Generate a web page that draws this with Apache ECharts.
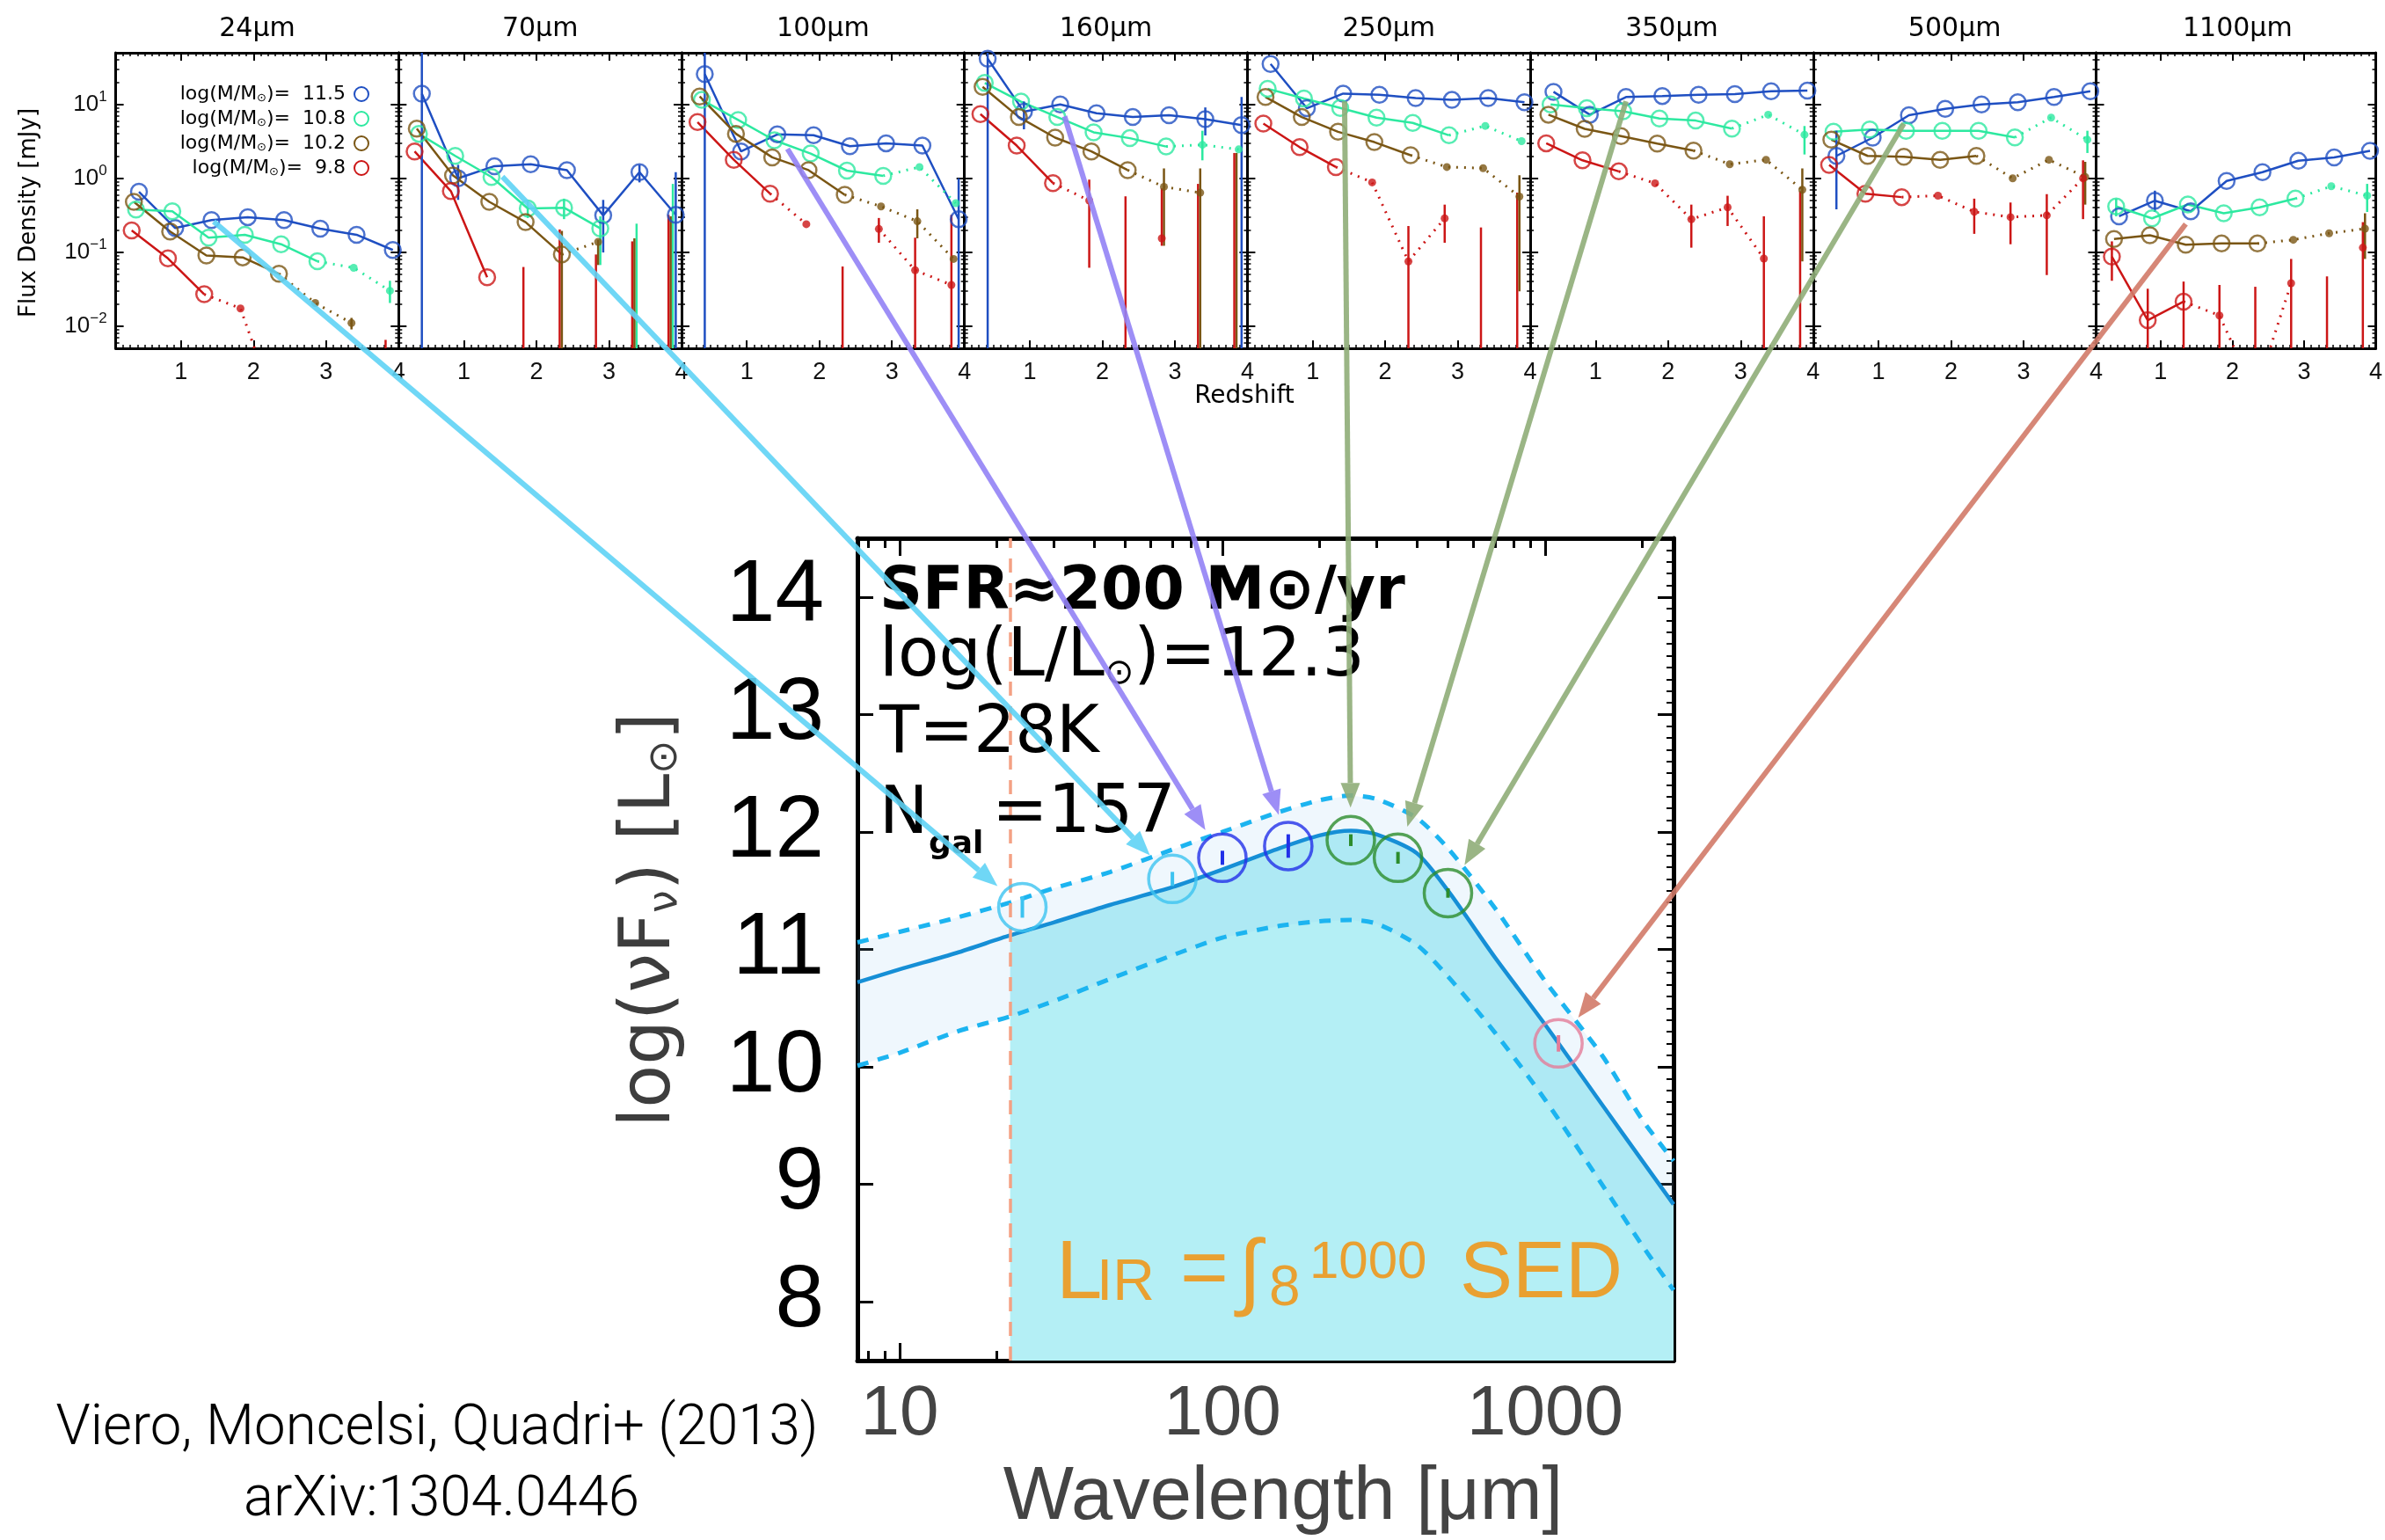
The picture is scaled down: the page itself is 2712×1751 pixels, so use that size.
<!DOCTYPE html>
<html>
<head>
<meta charset="utf-8">
<title>Stacked SED</title>
<script src="https://cdn.jsdelivr.net/npm/echarts@6/dist/echarts.min.js"></script>
<style>html,body{margin:0;background:#fff}#main{width:2712px;height:1751px}</style>
</head>
<body>
<div id="main"></div>
<script>
// ---------- top row: stacked flux density vs redshift ----------
var bands = ['24', '70', '100', '160', '250', '350', '500', '1100'];
var massLabels = ['11.5', '10.8', '10.2', '9.8'];
var massColors = ['#1f4fc2', '#2de9a0', '#7a5614', '#cc1616'];

var zBlue  = [0.42, 0.92, 1.42, 1.92, 2.42, 2.92, 3.42, 3.92];
var zGreen = [0.38, 0.88, 1.38, 1.88, 2.38, 2.88, 3.38, 3.88];
var zBrown = [0.35, 0.85, 1.35, 1.85, 2.35, 2.85, 3.35, 3.85];
var zRed   = [0.32, 0.82, 1.32, 1.82, 2.32, 2.82, 3.32, 3.82];
var zTicks = [1, 2, 3, 4];

// flux density [mJy]; rows = blue, green, brown, red
var flux24 = [
  [0.656, 0.212, 0.272, 0.298, 0.272, 0.208, 0.172, 0.107],
  [0.378, 0.358, 0.157, 0.172, 0.128, 0.0752, 0.0615, 0.030],
  [0.48, 0.19, 0.090, 0.085, 0.051, 0.0205, 0.011, null],
  [0.197, 0.0824, 0.0269, 0.0173, 0.0007, null, null, 0.0065]
];
var flux70 = [
  [14.0, 1.0, 1.46, 1.55, 1.29, 0.315, 1.21, 0.32],
  [4.0, 2.01, 1.04, 0.39, 0.40, 0.21, 0.243, 0.84],
  [4.7, 1.09, 0.48, 0.255, 0.093, 0.138, 0.154, 0.306],
  [2.31, 0.67, 0.0458, 0.063, 0.203, 0.093, 0.14, 0.32]
];
var flux100 = [
  [25.7, 2.31, 3.93, 3.82, 2.72, 2.98, 2.77, 0.279],
  [11.5, 6.15, 3.27, 2.16, 1.27, 1.08, 1.42, 0.46],
  [12.8, 4.0, 1.92, 1.29, 0.598, 0.415, 0.262, 0.081],
  [5.77, 1.78, 0.62, 0.239, 0.064, 0.206, 0.057, 0.036]
];
var flux160 = [
  [41.5, 7.95, 10.0, 7.6, 6.74, 7.13, 6.3, 5.26],
  [19.5, 10.9, 6.74, 4.19, 3.49, 2.69, 2.84, 2.46],
  [17.3, 6.74, 3.55, 2.31, 1.29, 0.766, 0.638, 2.2],
  [7.4, 2.77, 0.86, 0.50, 0.57, 0.154, 0.84, 2.2]
];
var flux250 = [
  [35.2, 8.88, 14.0, 13.5, 12.2, 11.5, 12.2, 10.7],
  [16.3, 12.0, 8.96, 6.62, 5.61, 3.82, 5.12, 3.18],
  [12.6, 6.74, 4.26, 3.09, 2.05, 1.42, 1.37, 0.566],
  [5.51, 2.64, 1.42, 0.88, 0.075, 0.287, 0.216, 0.64]
];
var flux350 = [
  [14.8, 7.26, 12.6, 13.0, 13.5, 13.8, 15.1, 15.4],
  [10.0, 8.88, 8.09, 6.44, 6.04, 4.71, 7.26, 3.89],
  [7.26, 4.67, 3.72, 2.95, 2.37, 1.55, 1.78, 0.70],
  [2.98, 1.75, 1.24, 0.855, 0.279, 0.404, 0.082, 0.67]
];
var flux500 = [
  [2.01, 3.55, 7.13, 8.71, 10.0, 10.7, 12.6, 15.1],
  [4.26, 4.58, 4.38, 4.38, 4.38, 3.58, 6.62, 3.33],
  [3.33, 2.01, 1.95, 1.78, 2.01, 1.0, 1.78, 1.04],
  [1.52, 0.62, 0.556, 0.582, 0.352, 0.298, 0.315, 1.0]
];
var flux1100 = [
  [0.306, 0.497, 0.358, 0.92, 1.21, 1.73, 1.92, 2.35],
  [0.415, 0.287, 0.442, 0.336, 0.404, 0.531, 0.78, 0.582],
  [0.151, 0.169, 0.126, 0.131, 0.131, 0.147, 0.18, 0.208],
  [0.087, 0.012, 0.0214, 0.0139, 0.0012, 0.038, 0.047, 0.115]
];
// o = detection (open), f = low significance (filled, dotted), l = bar only, - = none
var kind24   = ['oooooooo', 'ooooooff', 'oooooff-', 'oooff--l'];
var kind70   = ['oooooooo', 'ooooooll', 'ooooofll', 'ooolllll'];
var kind100  = ['oooooooo', 'ooooooff', 'ooooofff', 'oooflfff'];
var kind160  = ['oooooooo', 'ooooooff', 'oooooffl', 'oooflfll'];
var kind250  = ['oooooooo', 'ooooooff', 'ooooofff', 'ooofffll'];
var kind350  = ['oooooooo', 'ooooooff', 'ooooofff', 'oooffffl'];
var kind500  = ['oooooooo', 'ooooooff', 'ooooofff', 'ooofffff'];
var kind1100 = ['oooooooo', 'ooooooff', 'ooooofff', 'oooffflf'];

// visible error bars: [band, mass, bin, low, high]  (low 0 = down to the axis)
var errBars = [
  [0,1,7,0.0205,0.041], [0,2,6,0.009,0.0129],
  [1,0,0,0,50], [1,0,1,0.51,1.52], [1,0,5,0.099,0.51], [1,0,6,0.88,1.52], [1,0,7,0,1.21],
  [1,1,3,0.29,0.51], [1,1,4,0.28,0.53], [1,1,5,0.067,0.306], [1,2,4,0,0.194], [1,2,5,0.067,0.147],
  [2,0,0,0,50], [2,0,7,0,1.0], [2,2,6,0.154,0.38], [2,3,5,0.134,0.29], [2,3,6,0,0.157], [2,3,7,0,0.32],
  [3,0,0,0,50], [3,0,1,4.6,10.96], [3,0,6,3.8,9.1], [3,0,7,0,12.6], [3,1,6,1.75,4.4],
  [3,2,5,0.122,1.36], [3,2,6,0,1.36], [3,3,3,0.0615,0.96], [3,3,5,0.122,0.73],
  [4,2,7,0.0295,1.1], [4,3,4,0,0.226], [4,3,5,0.134,0.44],
  [5,1,7,2.1,5.1], [5,2,7,0.075,1.36], [5,3,4,0.115,0.44], [5,3,5,0.226,0.58], [5,3,6,0,0.306],
  [6,0,0,0.38,4.4], [6,1,7,2.2,4.4], [6,2,7,0.44,1.67], [6,3,4,0.177,0.53], [6,3,5,0.128,0.47],
  [6,3,6,0.049,0.61], [6,3,7,0.28,1.75],
  [7,0,1,0.35,0.68], [7,1,0,0.306,0.53], [7,1,7,0.35,0.84], [7,2,7,0.081,0.336], [7,3,0,0.041,0.14],
  [7,3,1,0,0.032], [7,3,2,0,0.040], [7,3,3,0,0.036], [7,3,4,0,0.034], [7,3,5,0,0.081], [7,3,7,0,0.255]
];
var fluxMinorTicks = [0.006, 0.007, 0.008, 0.009, 0.02, 0.03, 0.04, 0.05, 0.06, 0.07, 0.08, 0.09,
  0.2, 0.3, 0.4, 0.5, 0.6, 0.7, 0.8, 0.9, 2, 3, 4, 5, 6, 7, 8, 9, 20, 30, 40];

// ---------- bottom: stacked SED ----------
var sedWave  = [7.4, 10, 15, 22, 30, 45, 70, 100, 150, 200, 250, 300, 400, 500, 700, 1000, 1500, 2000, 2500];
var sedBest  = [10.72, 10.83, 10.97, 11.12, 11.23, 11.38, 11.53, 11.68, 11.86, 11.97, 12.01, 11.98, 11.82, 11.50, 10.93, 10.36, 9.68, 9.20, 8.83];
var sedUpper = [11.06, 11.15, 11.27, 11.40, 11.52, 11.66, 11.85, 12.00, 12.17, 12.27, 12.31, 12.28, 12.12, 11.86, 11.35, 10.73, 10.10, 9.55, 9.20];
var sedLower = [10.01, 10.12, 10.30, 10.43, 10.56, 10.75, 10.95, 11.10, 11.20, 11.24, 11.25, 11.22, 11.04, 10.77, 10.29, 9.72, 9.00, 8.48, 8.10];
var sedPtWave = [24, 70, 100, 160, 250, 350, 500, 1100];
var sedPtVal  = [11.36, 11.60, 11.78, 11.88, 11.93, 11.78, 11.48, 10.20];
var sedPtErr  = [0.09, 0.06, 0.06, 0.10, 0.05, 0.05, 0.04, 0.07];
var sedPtColors = ['#3cc3f0', '#3cc3f0', '#2230e8', '#2230e8', '#2c8c2c', '#2c8c2c', '#2c8c2c', '#e47c98'];
var fillStartWave = 22;
var sedYTicks = [8, 9, 10, 11, 12, 13, 14];
var waveMinorTicks = [8, 9, 20, 30, 40, 50, 60, 70, 80, 90, 200, 300, 400, 500, 600, 700, 800, 900, 2000];

// arrows: start point [z, flux] inside each band panel, ending at the SED point
var arrowFrom = [[1.45, 0.26], [1.53, 1.05], [1.56, 2.5], [1.48, 6.9], [1.44, 11], [1.42, 11], [1.35, 5.5], [1.35, 0.24]];
var arrowColors = ['#5fd3f5', '#5fd3f5', '#9282f5', '#9282f5', '#8fad78', '#8fad78', '#8fad78', '#d27a68'];

var fluxByBand = [flux24, flux70, flux100, flux160, flux250, flux350, flux500, flux1100];
var kindByBand = [kind24, kind70, kind100, kind160, kind250, kind350, kind500, kind1100];
var zByMass = [zBlue, zGreen, zBrown, zRed];

var PANEL_LEFT = 131.6, PANEL_W = 321.7, PANEL_TOP = 60, PANEL_H = 336;
var zMin = 0.1, zMax = 4, fMin = 0.005, fMax = 50;
var yMinSed = 7.5, yMaxSed = 14.5, xMinSed = 7.4, xMaxSed = 2500;

var chart = echarts.init(document.getElementById('main'));
var grids = [], xAxes = [], yAxes = [], series = [];
var xMain = [], yMain = [];

function isPow10(v) {
  var l = Math.log10(v);
  return Math.abs(l - Math.round(l)) < 1e-6;
}

for (var i = 0; i < 8; i++) {
  grids.push({left: PANEL_LEFT + i * PANEL_W, top: PANEL_TOP, width: PANEL_W, height: PANEL_H});
  xMain[i] = xAxes.length;
  ['bottom', 'top'].forEach(function (pos) {
    xAxes.push({
      gridIndex: i, type: 'value', min: zMin, max: zMax, position: pos,
      axisLine: {onZero: false, lineStyle: {color: '#000', width: 3}},
      axisTick: {inside: true, length: 9, customValues: zTicks, lineStyle: {color: '#000', width: 2}},
      axisLabel: pos === 'bottom'
        ? {customValues: zTicks, fontSize: 27, fontFamily: 'Liberation Sans', color: '#111', margin: 14, showMaxLabel: true}
        : {show: false},
      splitLine: {show: false}
    });
    xAxes.push({
      gridIndex: i, type: 'value', min: zMin, max: zMax, interval: 0.1, position: pos,
      axisLine: {show: false, onZero: false},
      axisTick: {inside: true, length: 4, lineStyle: {color: '#000', width: 1.5}},
      axisLabel: {show: false}, splitLine: {show: false}
    });
  });
  yMain[i] = yAxes.length;
  ['left', 'right'].forEach(function (pos) {
    yAxes.push({
      gridIndex: i, type: 'log', logBase: 10, min: fMin, max: fMax, position: pos,
      axisLine: {onZero: false, lineStyle: {color: '#000', width: 3}},
      axisTick: {inside: true, length: 9, lineStyle: {color: '#000', width: 2}},
      axisLabel: (pos === 'left' && i === 0) ? {
        fontSize: 26, fontFamily: 'Liberation Sans', color: '#111', margin: 10, lineHeight: 34,
        formatter: function (v) {
          if (!isPow10(v)) return '';
          var e = Math.round(Math.log10(v));
          return '10{s|' + (e < 0 ? '\u2212' + (-e) : e) + '}';
        },
        rich: {s: {fontSize: 17, fontFamily: 'Liberation Sans', color: '#111', verticalAlign: 'top', lineHeight: 20}}
      } : {show: false},
      splitLine: {show: false}
    });
    yAxes.push({
      gridIndex: i, type: 'value', min: Math.log10(fMin), max: Math.log10(fMax), position: pos,
      axisLine: {show: false, onZero: false},
      axisTick: {inside: true, length: 4, customValues: fluxMinorTicks.map(Math.log10), lineStyle: {color: '#000', width: 1.5}},
      axisLabel: {show: false}, splitLine: {show: false}
    });
  });

  var barData = [];
  for (var m = 0; m < 4; m++) {
    var f = fluxByBand[i][m], k = kindByBand[i][m], z = zByMass[m];
    var solid = [], dotted = [], open = [], filled = [];
    for (var b = 0; b < 8; b++) {
      var c = k.charAt(b);
      var nearF = (b > 0 && k.charAt(b - 1) === 'f') || (b < 7 && k.charAt(b + 1) === 'f');
      solid.push(c === 'o' ? [z[b], f[b]] : [z[b], '-']);
      dotted.push((c === 'f' || (c === 'o' && nearF)) ? [z[b], f[b]] : [z[b], '-']);
      if (c === 'o') open.push([z[b], f[b]]);
      if (c === 'f') filled.push([z[b], f[b]]);
      if (c === 'l') barData.push([z[b], fMin, f[b], m]);
    }
    var base = {xAxisIndex: xMain[i], yAxisIndex: yMain[i], animation: false, silent: true};
    series.push(Object.assign({type: 'line', data: solid, showSymbol: false, symbol: 'none', z: 3,
      lineStyle: {color: massColors[m], width: 2.5}}, base));
    series.push(Object.assign({type: 'line', data: dotted, showSymbol: false, symbol: 'none', z: 3,
      lineStyle: {color: massColors[m], width: 3, type: [2, 7]}}, base));
    series.push(Object.assign({type: 'scatter', data: open, symbol: 'circle', symbolSize: 18, z: 5,
      itemStyle: {color: 'rgba(0,0,0,0)', borderColor: massColors[m], borderWidth: 2.5}}, base));
    series.push(Object.assign({type: 'scatter', data: filled, symbol: 'circle', symbolSize: 9, z: 5,
      itemStyle: {color: massColors[m]}}, base));
  }
  errBars.forEach(function (e) {
    if (e[0] === i) barData.push([zByMass[e[1]][e[2]], e[3] > 0 ? e[3] : fMin, e[4], e[1]]);
  });
  series.push({
    type: 'custom', xAxisIndex: xMain[i], yAxisIndex: yMain[i], data: barData, z: 4, silent: true,
    encode: {x: 0, y: [1, 2]}, animation: false,
    renderItem: function (params, api) {
      var x = api.value(0);
      var lo = Math.max(api.value(1), fMin), hi = Math.min(api.value(2), fMax);
      if (hi <= lo) return null;
      var p1 = api.coord([x, lo]), p2 = api.coord([x, hi]);
      return {type: 'line', shape: {x1: p1[0], y1: p1[1], x2: p2[0], y2: p2[1]},
        style: {stroke: massColors[api.value(3)], lineWidth: 2.5}};
    }
  });
}

// ---------- SED panel ----------
var sedGrid = grids.length;
grids.push({left: 975, top: 612, width: 928, height: 935});
var sedX = xAxes.length;
['bottom', 'top'].forEach(function (pos) {
  xAxes.push({
    gridIndex: sedGrid, type: 'log', logBase: 10, min: xMinSed, max: xMaxSed, position: pos,
    axisLine: {onZero: false, lineStyle: {color: '#000', width: 5}},
    axisTick: {inside: true, length: 20, lineStyle: {color: '#000', width: 3}},
    axisLabel: pos === 'bottom' ? {
      fontSize: 80, fontFamily: 'Liberation Sans', color: '#444', margin: 22,
      formatter: function (v) { return isPow10(v) ? String(Math.round(v)) : ''; }
    } : {show: false},
    splitLine: {show: false}
  });
  xAxes.push({
    gridIndex: sedGrid, type: 'value', min: Math.log10(xMinSed), max: Math.log10(xMaxSed), position: pos,
    axisLine: {show: false, onZero: false},
    axisTick: {inside: true, length: 11, customValues: waveMinorTicks.map(Math.log10), lineStyle: {color: '#000', width: 3}},
    axisLabel: {show: false}, splitLine: {show: false}
  });
});
var sedY = yAxes.length;
['left', 'right'].forEach(function (pos) {
  yAxes.push({
    gridIndex: sedGrid, type: 'value', min: yMinSed, max: yMaxSed, position: pos,
    axisLine: {onZero: false, lineStyle: {color: '#000', width: 5}},
    axisTick: {inside: true, length: 18, customValues: sedYTicks, lineStyle: {color: '#000', width: 3}},
    axisLabel: pos === 'left' ? {customValues: sedYTicks, fontSize: 100, fontFamily: 'Liberation Sans', color: '#000', margin: 38} : {show: false},
    splitLine: {show: false}
  });
});
yAxes.push({
  gridIndex: sedGrid, type: 'value', min: yMinSed, max: yMaxSed, interval: 0.1, position: 'right',
  axisLine: {show: false, onZero: false},
  axisTick: {inside: true, length: 8, lineStyle: {color: '#000', width: 2}},
  axisLabel: {show: false}, splitLine: {show: false}
});

var sedBase = {xAxisIndex: sedX, yAxisIndex: sedY, animation: false, silent: true};
function clampY(v) { return Math.max(yMinSed, Math.min(yMaxSed, v)); }

// cyan area integrated under the best fit
series.push(Object.assign({
  type: 'custom', data: [[sedWave[0], sedBest[0]]], z: 1,
  renderItem: function (params, api) {
    var pts = [];
    sedWave.forEach(function (w, k) { if (w >= fillStartWave) pts.push(api.coord([w, sedBest[k]])); });
    pts.push(api.coord([sedWave[sedWave.length - 1], yMinSed]));
    pts.push(api.coord([fillStartWave, yMinSed]));
    return {type: 'polygon', shape: {points: pts}, style: {fill: '#b4eff5'}};
  }
}, sedBase));
// pale confidence band
series.push(Object.assign({
  type: 'custom', data: [[sedWave[0], sedBest[0]]], z: 2,
  renderItem: function (params, api) {
    var pts = [];
    sedWave.forEach(function (w, k) { pts.push(api.coord([w, clampY(sedUpper[k])])); });
    for (var k = sedWave.length - 1; k >= 0; k--) pts.push(api.coord([sedWave[k], clampY(sedLower[k])]));
    return {type: 'polygon', shape: {points: pts}, style: {fill: 'rgba(140,195,240,0.14)'}};
  }
}, sedBase));
function zip(a, b) { return a.map(function (v, k) { return [v, b[k]]; }); }
series.push(Object.assign({type: 'line', data: zip(sedWave, sedUpper), symbol: 'none', smooth: 0.25, z: 3,
  lineStyle: {color: '#1cb4f0', width: 5, type: [13, 11]}}, sedBase));
series.push(Object.assign({type: 'line', data: zip(sedWave, sedLower), symbol: 'none', smooth: 0.25, z: 3,
  lineStyle: {color: '#1cb4f0', width: 5, type: [13, 11]}}, sedBase));
series.push(Object.assign({type: 'line', data: zip(sedWave, sedBest), symbol: 'none', smooth: 0.25, z: 4,
  lineStyle: {color: '#168fd6', width: 4.5},
  markLine: {silent: true, symbol: ['none', 'none'], label: {show: false},
    lineStyle: {color: '#f4a184', width: 3.5, type: [16, 12]},
    data: [{xAxis: fillStartWave}]}
}, sedBase));
series.push(Object.assign({
  type: 'custom', data: sedPtWave.map(function (w, k) { return [w, sedPtVal[k] - sedPtErr[k], sedPtVal[k] + sedPtErr[k], k]; }),
  encode: {x: 0, y: [1, 2]}, z: 6,
  renderItem: function (params, api) {
    var p1 = api.coord([api.value(0), api.value(1)]), p2 = api.coord([api.value(0), api.value(2)]);
    return {type: 'line', shape: {x1: p1[0], y1: p1[1], x2: p2[0], y2: p2[1]},
      style: {stroke: sedPtColors[api.value(3)], lineWidth: 4}};
  }
}, sedBase));
series.push(Object.assign({
  type: 'scatter', symbol: 'circle', symbolSize: 54, z: 7,
  data: sedPtWave.map(function (w, k) {
    return {value: [w, sedPtVal[k]], itemStyle: {color: 'rgba(0,0,0,0)', borderColor: sedPtColors[k], borderWidth: 3.5}};
  })
}, sedBase));

chart.setOption({
  animation: false,
  backgroundColor: '#fff',
  grid: grids, xAxis: xAxes, yAxis: yAxes, series: series
});

// ---------- texts and arrows ----------
function mid(baseline, size) { return baseline - 0.346 * size; }
function txt(x, y, s, size, opt) {
  opt = opt || {};
  var el = {type: 'text', x: x, y: y, z: 50, silent: true, rotation: opt.rotation || 0,
    style: {text: s, fontSize: size, fontFamily: opt.family || 'Liberation Sans', fontWeight: opt.weight || 'normal',
      fill: opt.fill || '#000', align: opt.align || 'left', verticalAlign: 'middle', rich: opt.rich}};
  if (opt.scaleX) el.scaleX = opt.scaleX;
  return el;
}
var gfx = [];
bands.forEach(function (b, i) {
  gfx.push(txt(PANEL_LEFT + (i + 0.5) * PANEL_W, 33, b + 'µm', 30, {family: 'DejaVu Sans', align: 'center'}));
});
gfx.push(txt(33, 242, 'Flux Density [mJy]', 26, {family: 'DejaVu Sans', align: 'center', rotation: Math.PI / 2}));
gfx.push(txt(1415, 451, 'Redshift', 28, {family: 'DejaVu Sans', align: 'center'}));
var legY = [107, 135, 163, 191];
massLabels.forEach(function (lab, m) {
  gfx.push(txt(393, legY[m], 'log(M/M{s|⊙})=  ' + lab, 22, {family: 'DejaVu Sans', align: 'right',
    rich: {s: {fontSize: 13, fontFamily: 'DejaVu Sans', verticalAlign: 'bottom', lineHeight: 12}}}));
  gfx.push({type: 'circle', z: 50, silent: true, shape: {cx: 411, cy: legY[m], r: 8},
    style: {fill: 'none', stroke: massColors[m], lineWidth: 2}});
});

// SED annotations
gfx.push(txt(1000, mid(698, 68), 'SFR≈200 M⊙/yr', 68, {family: 'DejaVu Sans', weight: 'bold'}));
gfx.push(txt(1000, mid(775, 76), 'log(L/L{s|⊙})=12.3', 76, {family: 'DejaVu Sans',
  rich: {s: {fontSize: 40, fontFamily: 'DejaVu Sans', verticalAlign: 'bottom', lineHeight: 24}}}));
gfx.push(txt(1000, mid(861, 74), 'T=28K', 74, {family: 'DejaVu Sans'}));
gfx.push(txt(1000, mid(953, 74), 'N', 74, {family: 'DejaVu Sans'}));
gfx.push(txt(1056, mid(973, 36), 'gal', 36, {family: 'DejaVu Sans', weight: 'bold'}));
gfx.push(txt(1128, mid(953, 76), '=157', 76, {family: 'DejaVu Sans'}));
var orange = '#e9a031';
gfx.push(txt(1201, mid(1483, 94), 'L', 94, {fill: orange}));
gfx.push(txt(1247, mid(1483, 66), 'IR', 66, {fill: orange}));
gfx.push(txt(1342, mid(1480, 94), '=', 94, {fill: orange}));
gfx.push(txt(1408, mid(1484, 96), '∫', 96, {fill: orange}));
gfx.push(txt(1443, mid(1489, 64), '8', 64, {fill: orange}));
gfx.push(txt(1489, mid(1457, 60), '1000', 60, {fill: orange}));
gfx.push(txt(1660, mid(1481, 90), 'SED', 90, {fill: orange}));

gfx.push(txt(740, 1046, 'log(νF{s|ν}) [L{s|⊙}]', 80, {family: 'DejaVu Sans', fill: '#3d3d3d', align: 'center',
  rotation: Math.PI / 2, rich: {s: {fontSize: 46, fontFamily: 'DejaVu Sans', fill: '#3d3d3d', verticalAlign: 'bottom', lineHeight: 30}}}));
gfx.push(txt(1459, 1704, 'Wavelength [μm]', 85, {fill: '#444', align: 'center'}));

// citation, squeezed to the reference width
var mctx = document.createElement('canvas').getContext('2d');
function fitScale(s, font, target) { mctx.font = font; return target / mctx.measureText(s).width; }
var cite1 = 'Viero, Moncelsi, Quadri+ (2013)', cite2 = 'arXiv:1304.0446';
var sc1 = fitScale(cite1, '300 64px Roboto', 867);
gfx.push(txt(497, 1626, cite1, 64, {family: 'Roboto', weight: 300, align: 'center', scaleX: sc1}));
gfx.push(txt(502, 1707, cite2, 64, {family: 'Roboto', weight: 300, align: 'center', scaleX: sc1}));

arrowFrom.forEach(function (from, k) {
  var s = chart.convertToPixel({xAxisIndex: xMain[k], yAxisIndex: yMain[k]}, from);
  var c = chart.convertToPixel({xAxisIndex: sedX, yAxisIndex: sedY}, [sedPtWave[k], sedPtVal[k]]);
  var dx = c[0] - s[0], dy = c[1] - s[1], len = Math.sqrt(dx * dx + dy * dy);
  var ux = dx / len, uy = dy / len;
  var tip = [c[0] - ux * 37, c[1] - uy * 37];
  var bse = [tip[0] - ux * 28, tip[1] - uy * 28];
  gfx.push({type: 'line', z: 60, silent: true, shape: {x1: s[0], y1: s[1], x2: bse[0], y2: bse[1]},
    style: {stroke: arrowColors[k], lineWidth: 6, opacity: 0.9}});
  gfx.push({type: 'polygon', z: 60, silent: true,
    shape: {points: [tip, [bse[0] - uy * 11, bse[1] + ux * 11], [bse[0] + uy * 11, bse[1] - ux * 11]]},
    style: {fill: arrowColors[k], opacity: 0.9}});
});

chart.setOption({graphic: gfx});
</script>
</body>
</html>
